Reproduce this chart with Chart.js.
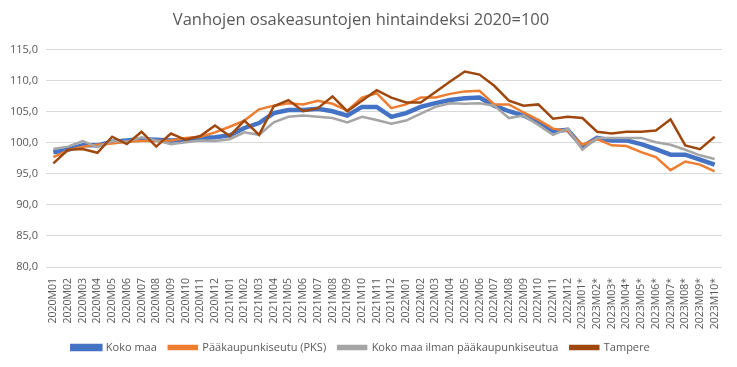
<!DOCTYPE html>
<html>
<head>
<meta charset="utf-8">
<script src="https://cdn.jsdelivr.net/npm/chart.js@4"></script>
<style>
  html, body { margin: 0; padding: 0; background: #fff; }
  #wrap { width: 737px; height: 367px; }
</style>
</head>
<body>
<div id="wrap"><canvas id="hintaindeksi" width="737" height="367"></canvas></div>
<script>
// Kuukaudet 2020M01 - 2023M10*
const months = [
  '2020M01','2020M02','2020M03','2020M04','2020M05','2020M06','2020M07','2020M08','2020M09','2020M10','2020M11','2020M12',
  '2021M01','2021M02','2021M03','2021M04','2021M05','2021M06','2021M07','2021M08','2021M09','2021M10','2021M11','2021M12',
  '2022M01','2022M02','2022M03','2022M04','2022M05','2022M06','2022M07','2022M08','2022M09','2022M10','2022M11','2022M12',
  '2023M01*','2023M02*','2023M03*','2023M04*','2023M05*','2023M06*','2023M07*','2023M08*','2023M09*','2023M10*'
];

const kokoMaa = [
  98.5, 98.9, 99.6, 99.6, 100.2, 100.4, 100.6, 100.5, 100.4, 100.5, 100.8, 100.9,
  101.2, 102.4, 103.2, 104.8, 105.3, 105.3, 105.5, 105.1, 104.4, 105.8, 105.8, 104.2,
  104.8, 105.8, 106.4, 106.9, 107.2, 107.3, 106.0, 105.1, 104.4, 103.3, 101.9, 102.1,
  99.4, 100.8, 100.4, 100.4, 99.8, 99.0, 98.1, 98.1, 97.3, 96.5
];

const pks = [
  97.7, 98.8, 99.4, 99.7, 99.9, 100.2, 100.3, 100.3, 100.4, 100.8, 101.0, 101.7,
  102.6, 103.6, 105.4, 106.0, 106.4, 106.2, 106.8, 106.3, 105.2, 107.3, 108.0, 105.6,
  106.2, 107.3, 107.3, 107.9, 108.3, 108.4, 106.2, 106.2, 104.9, 103.7, 102.3, 101.9,
  99.7, 100.6, 99.6, 99.5, 98.5, 97.7, 95.6, 97.0, 96.5, 95.4
];

const ilmanPks = [
  99.0, 99.4, 100.3, 99.3, 100.3, 100.2, 100.9, 100.4, 99.8, 100.1, 100.4, 100.3,
  100.6, 101.7, 101.3, 103.3, 104.2, 104.4, 104.2, 104.0, 103.3, 104.2, 103.7, 103.1,
  103.6, 104.7, 105.8, 106.4, 106.3, 106.4, 106.0, 104.0, 104.4, 102.9, 101.3, 102.3,
  98.9, 100.8, 100.8, 100.8, 100.8, 100.1, 99.7, 98.9, 98.0, 97.4
];

const tampere = [
  96.7, 98.9, 99.0, 98.4, 101.0, 99.8, 101.8, 99.4, 101.5, 100.5, 101.1, 102.8,
  101.1, 103.6, 101.3, 105.9, 106.9, 105.1, 105.6, 107.5, 105.1, 106.8, 108.5, 107.3,
  106.5, 106.5, 108.2, 109.9, 111.5, 111.0, 109.2, 106.8, 106.0, 106.2, 103.9, 104.2,
  104.0, 101.8, 101.5, 101.8, 101.8, 102.0, 103.8, 99.6, 99.0, 101.0
];

const seriesNames = ['Koko maa', 'Pääkaupunkiseutu (PKS)', 'Koko maa ilman pääkaupunkiseutua', 'Tampere'];

const textColor = '#595959';
const gridColor = '#d9d9d9';
const fontFamily = "'Open Sans', 'Noto Sans', sans-serif";

function line(label, data, color, width, order) {
  return {
    label: label,
    data: data,
    borderColor: color,
    backgroundColor: color,
    borderWidth: width,
    pointRadius: 0,
    tension: 0,
    order: order
  };
}

new Chart(document.getElementById('hintaindeksi'), {
  type: 'line',
  data: {
    labels: months,
    datasets: [
      line(seriesNames[0], kokoMaa, '#4472C4', 4.5, 4),
      line(seriesNames[1], pks, '#ED7D31', 2.5, 3),
      line(seriesNames[2], ilmanPks, '#A5A5A5', 2.5, 2),
      line(seriesNames[3], tampere, '#9E480E', 2.5, 1)
    ]
  },
  options: {
    responsive: false,
    animation: false,
    layout: { padding: { top: 0, right: 15, bottom: 4, left: 0 } },
    plugins: {
      title: {
        display: true,
        text: 'Vanhojen osakeasuntojen hintaindeksi 2020=100',
        color: textColor,
        font: { family: fontFamily, size: 16.5, weight: 'normal' },
        padding: { top: 10, bottom: 20 }
      },
      legend: {
        position: 'bottom',
        labels: {
          color: textColor,
          font: { family: fontFamily, size: 11 },
          boxWidth: 28,
          boxHeight: 3,
          padding: 12,
          sort: (a, b) => a.datasetIndex - b.datasetIndex
        }
      },
      tooltip: { enabled: false }
    },
    scales: {
      x: {
        offset: true,
        grid: { display: false },
        border: { display: false },
        ticks: {
          color: textColor,
          font: { family: fontFamily, size: 10.5 },
          autoSkip: false,
          minRotation: 90,
          maxRotation: 90,
          padding: 3
        },
        afterFit: scale => { scale.height = 63; }
      },
      y: {
        min: 80,
        max: 115,
        grid: { color: gridColor, drawTicks: false },
        border: { display: false },
        ticks: {
          stepSize: 5,
          color: textColor,
          font: { family: fontFamily, size: 11 },
          padding: 8,
          callback: v => v.toFixed(1).replace('.', ',')
        },
        afterFit: scale => { scale.width = 46; }
      }
    }
  }
});
</script>
</body>
</html>
